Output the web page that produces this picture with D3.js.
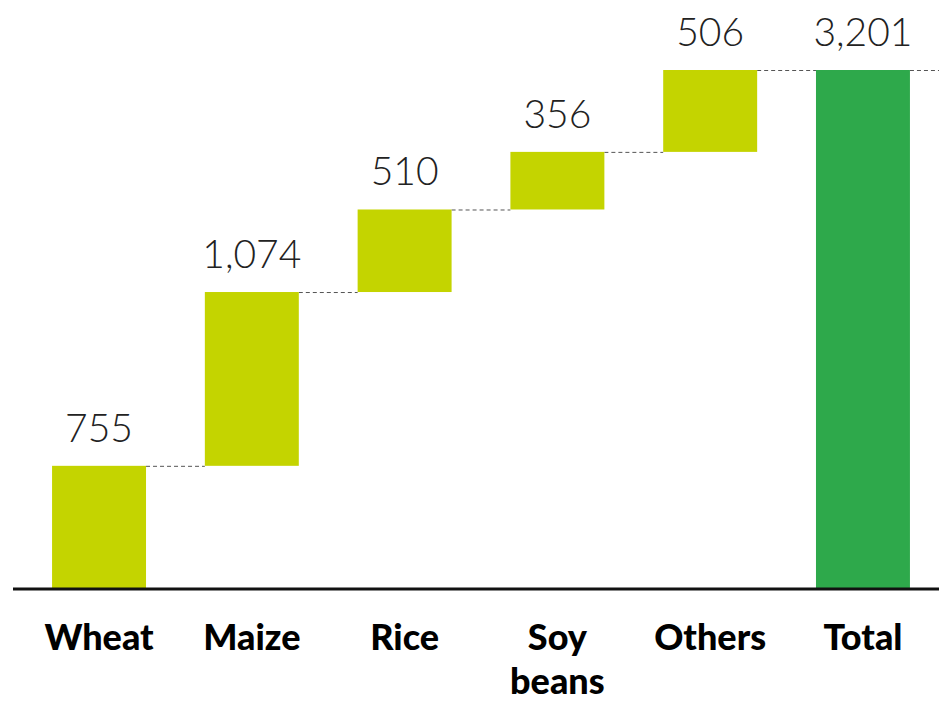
<!DOCTYPE html>
<html>
<head>
<meta charset="utf-8">
<script src="https://cdn.jsdelivr.net/npm/d3@7"></script>
<style>
  html, body { margin: 0; padding: 0; background: #fff; }
  svg { display: block; }
</style>
</head>
<body>
<svg id="chart" width="939" height="702"></svg>
<script>
// Crop production, waterfall build-up to the total
const categories = ["Wheat", "Maize", "Rice", "Soy beans", "Others", "Total"];
const labelLines = [["Wheat"], ["Maize"], ["Rice"], ["Soy", "beans"], ["Others"], ["Total"]];
const values = [755, 1074, 510, 356, 506];
const total = 3201;

const width = 939, height = 702;
const svg = d3.select("#chart");

const x = d3.scaleBand()
  .domain(categories)
  .range([-6, 968])
  .paddingInner(0.385)
  .paddingOuter(0.38);

const y = d3.scaleLinear()
  .domain([0, total])
  .range([588, 70]);

// stacked segments: start / end of each step
let run = 0;
const steps = values.map((v, i) => {
  const s = { cat: categories[i], start: run, end: run + v, value: v, isTotal: false };
  run += v;
  return s;
});
steps.push({ cat: "Total", start: 0, end: total, value: total, isTotal: true });

const fmt = d3.format(",");

// dashed connectors between steps
const connectors = steps.map((d, i) => {
  const next = steps[i + 1];
  return {
    x1: x(d.cat) + x.bandwidth(),
    x2: next ? x(next.cat) : width,
    yv: d.end
  };
});
svg.append("g")
  .selectAll("line")
  .data(connectors)
  .join("line")
  .attr("x1", d => d.x1)
  .attr("x2", d => d.x2)
  .attr("y1", d => y(d.yv) + 0.5)
  .attr("y2", d => y(d.yv) + 0.5)
  .attr("stroke", "#555")
  .attr("stroke-width", 1)
  .attr("stroke-dasharray", "4,3");

// bars
svg.append("g")
  .selectAll("rect")
  .data(steps)
  .join("rect")
  .attr("x", d => x(d.cat))
  .attr("width", x.bandwidth())
  .attr("y", d => y(d.end))
  .attr("height", d => y(d.start) - y(d.end))
  .attr("fill", d => d.isTotal ? "#2ea94b" : "#c4d400");

// value labels
svg.append("g")
  .selectAll("text")
  .data(steps)
  .join("text")
  .attr("x", d => x(d.cat) + x.bandwidth() / 2)
  .attr("y", d => y(d.end) - 24)
  .attr("text-anchor", "middle")
  .attr("font-family", "Lato, sans-serif")
  .attr("font-weight", 300)
  .attr("font-size", 39)
  .attr("fill", "#222")
  .text(d => fmt(d.value));

// baseline
svg.append("line")
  .attr("x1", 13)
  .attr("x2", width)
  .attr("y1", 589)
  .attr("y2", 589)
  .attr("stroke", "#111")
  .attr("stroke-width", 3);

// category labels
const labels = svg.append("g")
  .selectAll("text")
  .data(categories)
  .join("text")
  .attr("x", d => x(d) + x.bandwidth() / 2)
  .attr("y", 650)
  .attr("text-anchor", "middle")
  .attr("font-family", "Lato, sans-serif")
  .attr("font-weight", 900)
  .attr("font-size", 36)
  .attr("fill", "#000");
labels.each(function(d, i) {
  const t = d3.select(this);
  labelLines[i].forEach((line, j) => {
    t.append("tspan")
      .attr("x", x(d) + x.bandwidth() / 2)
      .attr("dy", j === 0 ? 0 : 44)
      .text(line);
  });
});
</script>
</body>
</html>
